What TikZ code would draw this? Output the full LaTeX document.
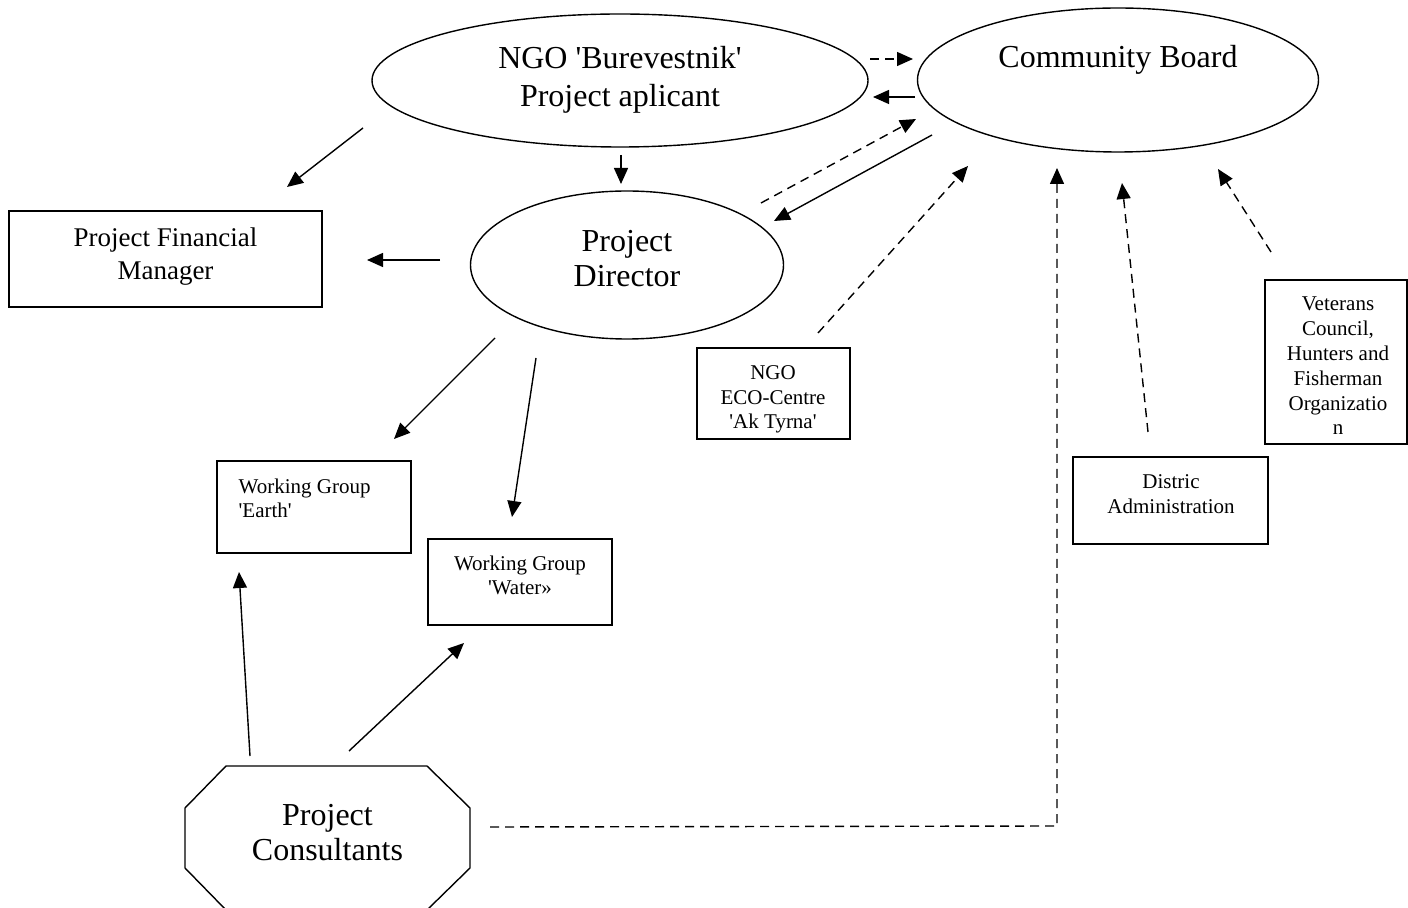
\documentclass[tikz,border=0pt]{standalone}
\usepackage{fontspec}
\setmainfont{Liberation Serif}
\usetikzlibrary{arrows.meta,shapes.geometric}
\newcommand{\sq}{\textquotesingle}
\begin{document}
\begin{tikzpicture}[x=0.5pt,y=-0.5pt,line width=0.7pt,
  conn/.style={-{Triangle[length=8pt,width=7pt]},line width=0.7pt},
  dconn/.style={conn,dash pattern=on 4.5pt off 3pt},
  oval/.style={draw,ellipse,inner sep=0pt,line width=0.7pt},
  box/.style={draw,rectangle,inner sep=0pt,line width=0.7pt},
  bigtext/.style={inner sep=0pt,align=center,font=\fontsize{16}{19}\selectfont},
  midtext/.style={inner sep=0pt,align=center,font=\fontsize{13.5}{16.5}\selectfont},
  smalltext/.style={inner sep=0pt,align=center,font=\fontsize{10.5}{12.4}\selectfont}]
\useasboundingbox (0,0) rectangle (1408,908);

% ellipses
\node[oval,minimum width=248pt,minimum height=66.5pt] (ngo) at (620,80.5) {};
\node[bigtext] (ngot) at (620,80) {NGO \sq Burevestnik\sq\\Project aplicant};
\node[oval,minimum width=200.5pt,minimum height=72pt] (cb) at (1118,80) {};
\node[bigtext] (cbt) at (1118,60) {Community Board};
\node[oval,minimum width=156.5pt,minimum height=74pt] (pd) at (627,265) {};
\node[bigtext,font=\fontsize{16}{17.5}\selectfont] (pdt) at (627,258.5) {Project\\Director};

% boxes
\node[box,minimum width=156.5pt,minimum height=48pt] (pfm) at (165.5,259) {};
\node[midtext] (pfmt) at (165.5,256.5) {Project Financial\\Manager};
\node[box,minimum width=97pt,minimum height=46pt] (earth) at (314,507) {};
\node[smalltext,align=left,anchor=west,font=\fontsize{10.5}{12}\selectfont] (eartht) at (238,498) {Working Group\\\sq Earth\sq};
\node[box,minimum width=92pt,minimum height=43pt] (water) at (520,582) {};
\node[smalltext,font=\fontsize{10.5}{12}\selectfont] (watert) at (520,575) {Working Group\\\sq Water»};
\node[box,minimum width=76.5pt,minimum height=45.5pt] (eco) at (773.5,393.5) {};
\node[smalltext,font=\fontsize{10.5}{12.4}\selectfont] (ecot) at (773,399.5) {NGO\\ECO-Centre\\\sq Ak Tyrna\sq};
\node[box,minimum width=97.5pt,minimum height=43.5pt] (dist) at (1170.5,500.5) {};
\node[smalltext,font=\fontsize{10.5}{12.5}\selectfont] (distt) at (1171,494.5) {Distric\\Administration};
\node[box,minimum width=71pt,minimum height=82pt] (vet) at (1336,362) {};
\node[smalltext,font=\fontsize{10.5}{12.4}\selectfont] (vett) at (1338,366) {Veterans\\Council,\\Hunters and\\Fisherman\\Organizatio\\n};

% octagon
\draw (226,766) -- (427,766) -- (470,808) -- (470,868) -- (427,910) -- (226,910) -- (185,868) -- (185,808) -- cycle;
\node[bigtext,font=\fontsize{16}{17.5}\selectfont] (cons) at (327.5,832.5) {Project\\Consultants};

% connector end points
\coordinate (a1s) at (621,155); \coordinate (a1e) at (621,184);
\coordinate (a2s) at (363,128); \coordinate (a2e) at (287,187);
\coordinate (a3s) at (870,59);  \coordinate (a3e) at (913,59);
\coordinate (a4s) at (915,97);  \coordinate (a4e) at (873,97);
\coordinate (a5s) at (761,203); \coordinate (a5e) at (916,119);
\coordinate (a6s) at (932,135); \coordinate (a6e) at (774,221);
\coordinate (a7s) at (818,333); \coordinate (a7e) at (968,166);
\coordinate (a8s) at (440,260); \coordinate (a8e) at (367,260);
\coordinate (a9s) at (495,338); \coordinate (a9e) at (394,439);
\coordinate (a10s) at (536,358); \coordinate (a10e) at (512,517);
\coordinate (a11s) at (250,756); \coordinate (a11e) at (239,572);
\coordinate (a12s) at (349,751); \coordinate (a12e) at (464,643);
\coordinate (a13s) at (490,827); \coordinate (a13m) at (1057,826); \coordinate (a13e) at (1057,168);
\coordinate (a14s) at (1148,432); \coordinate (a14e) at (1122,183);
\coordinate (a15s) at (1271,252); \coordinate (a15e) at (1218,169);

\draw[conn] (a1s) -- (a1e);
\draw[conn] (a2s) -- (a2e);
\draw[dconn] (a3s) -- (a3e);
\draw[conn] (a4s) -- (a4e);
\draw[dconn] (a5s) -- (a5e);
\draw[conn] (a6s) -- (a6e);
\draw[dconn] (a7s) -- (a7e);
\draw[conn] (a8s) -- (a8e);
\draw[conn] (a9s) -- (a9e);
\draw[conn] (a10s) -- (a10e);
\draw[conn] (a11s) -- (a11e);
\draw[conn] (a12s) -- (a12e);
\draw[dconn] (a13s) -- (a13m) -- (a13e);
\draw[dconn] (a14s) -- (a14e);
\draw[dconn] (a15s) -- (a15e);
\end{tikzpicture}
\end{document}
